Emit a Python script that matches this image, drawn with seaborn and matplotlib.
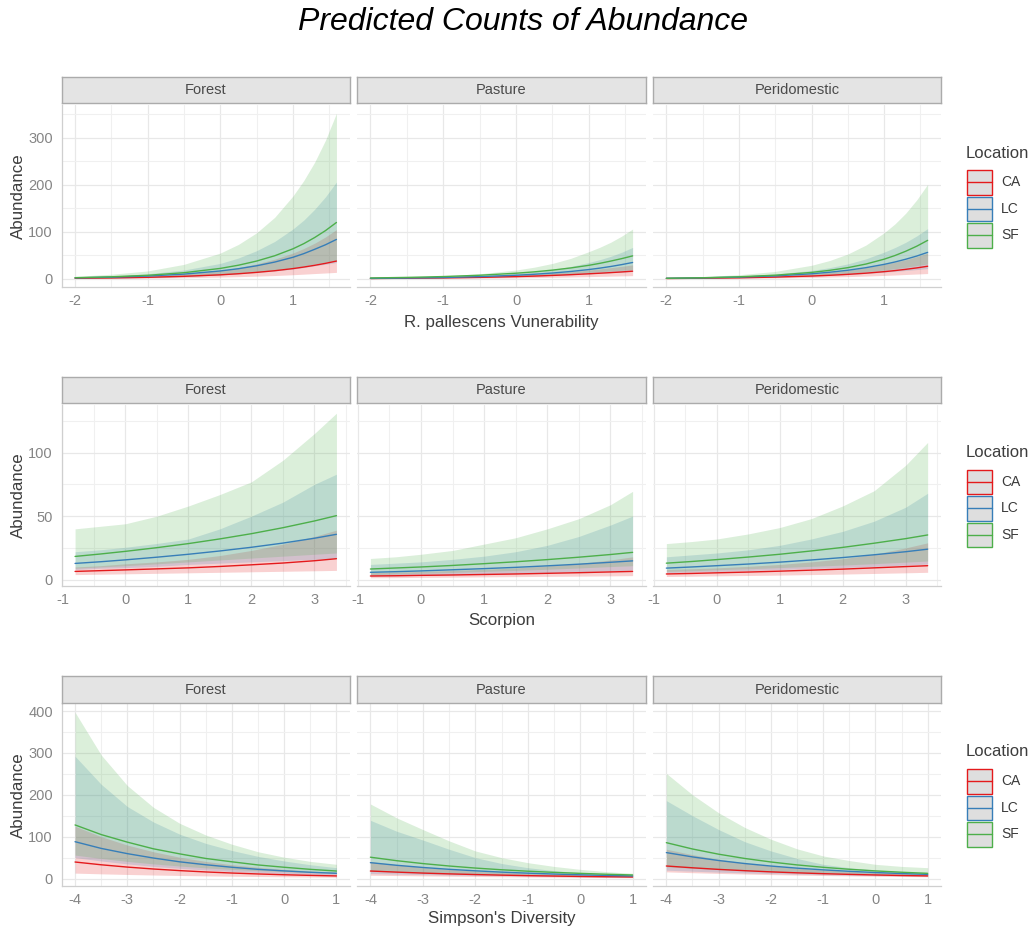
import matplotlib
matplotlib.use("Agg")
import matplotlib.pyplot as plt
import numpy as np
import pandas as pd
import seaborn as sns
from matplotlib.patches import Rectangle
from matplotlib.lines import Line2D

# ---------------------------------------------------------------
# Model predictions (fit with lower / upper confidence bounds)
# ---------------------------------------------------------------
LOCATIONS = ["CA", "LC", "SF"]
HABITATS = ["Forest", "Pasture", "Peridomestic"]
PALETTE = {"CA": "#E41A1C", "LC": "#377EB8", "SF": "#4DAF4A"}

# R. pallescens vulnerability
vul_x = [-2, -1.5, -1, -0.5, 0, 0.25, 0.5, 0.75, 1, 1.15, 1.3, 1.45, 1.6]
vul_forest = {
    "CA": {"fit": [1.5, 2.3, 3.5, 5.6, 8.8, 11.1, 14, 17.5, 22, 25.3, 29, 33.2, 38],
           "lo": [0.8, 1.2, 1.8, 2.7, 4, 4.9, 6, 7.3, 9, 10.2, 11.5, 12.7, 14],
           "hi": [2.1, 3.6, 6, 10.5, 18, 24, 32, 42, 55, 64.7, 76, 89.3, 105]},
    "LC": {"fit": [2.3, 3.8, 6.2, 10.3, 17, 21.8, 28, 35.9, 46, 53.8, 63, 72.7, 84],
           "lo": [1.1, 1.8, 3, 5, 8.5, 10.9, 14, 17.1, 21, 24.2, 28, 31.3, 35],
           "hi": [3.6, 6, 11, 19, 33, 44.5, 60, 79.7, 106, 125, 148, 174.6, 206]},
    "SF": {"fit": [2.7, 4.6, 7.8, 13.3, 22.4, 29.2, 38, 49.3, 64, 75, 88, 102.8, 120],
           "lo": [1.3, 2, 3.5, 5.5, 9, 11.6, 15, 19, 24, 27.7, 32, 35.8, 40],
           "hi": [5.5, 10, 17, 31, 55, 73.4, 98, 131, 176, 209, 248, 295, 352]},
}
vul_pasture = {
    "CA": {"fit": [1.0, 1.6, 2.3, 3.4, 5, 6.1, 7.5, 9.1, 11, 12.2, 13.5, 14.9, 16.5],
           "lo": [0.5, 0.8, 1.2, 1.7, 2.5, 3, 3.5, 4.2, 5, 5.5, 6, 6.5, 7],
           "hi": [1.5, 2.3, 3.4, 5.2, 8, 10, 12.5, 15.4, 19, 21.4, 24, 26.8, 30]},
    "LC": {"fit": [1.2, 2, 3.1, 5, 7.9, 10, 12.6, 15.9, 20, 23, 26.5, 30.5, 35],
           "lo": [0.9, 1.4, 2.2, 3.3, 5, 6.1, 7.5, 9.1, 11, 12.2, 13.5, 14.7, 16],
           "hi": [1.6, 2.6, 4.3, 7, 12, 15.5, 20, 26.5, 35, 41, 48, 56.7, 67]},
    "SF": {"fit": [2.1, 3.3, 5.1, 7.9, 12.2, 15.1, 18.8, 23.4, 29, 33.2, 38, 43.2, 49],
           "lo": [1.2, 1.8, 2.7, 4, 6, 7.3, 9, 11.2, 14, 15.4, 17, 18.4, 20],
           "hi": [2.6, 4, 6.5, 11, 19, 25, 33, 43.7, 58, 67.3, 78, 91, 106]},
}
vul_peridomestic = {
    "CA": {"fit": [1.0, 1.6, 2.5, 4, 6.2, 7.8, 9.8, 12.3, 15.5, 17.8, 20.5, 23.5, 27],
           "lo": [0.6, 0.9, 1.4, 2.2, 3.3, 4.1, 5, 6.1, 7.5, 8.4, 9.5, 10.5, 11.5],
           "hi": [1.5, 2.4, 4, 6.6, 11, 14.3, 18.5, 24, 31, 35.6, 41, 47.5, 55]},
    "LC": {"fit": [1.4, 2.3, 3.9, 6.5, 11, 14.3, 18.5, 24, 31, 36.1, 42, 48.7, 56.5],
           "lo": [1.0, 1.6, 2.5, 4, 6.2, 7.7, 9.5, 11.7, 14.5, 16.2, 18, 19.9, 22],
           "hi": [2.1, 3.5, 6, 10.5, 18, 24, 32, 42.7, 57, 66.7, 78, 91.4, 107]},
    "SF": {"fit": [1.5, 2.6, 4.6, 8, 13.9, 18.3, 24, 31.7, 42, 49.8, 59, 69.6, 82],
           "lo": [1.1, 1.7, 2.8, 4.5, 7.5, 9.5, 12, 15.1, 19, 21.8, 25, 28.3, 32],
           "hi": [3, 5, 9, 16, 29, 39.2, 53, 72, 98, 117, 140, 168, 201]},
}

# Scorpion
sco_x = [-0.8, -0.4, 0, 0.5, 1, 1.5, 2, 2.5, 3, 3.35]
sco_forest = {
    "CA": {"fit": [6.5, 7.1, 7.7, 8.5, 9.3, 10.4, 11.7, 13.1, 14.9, 16.5],
           "lo": [4, 4.3, 4.6, 5, 5.4, 5.8, 6.2, 6.6, 7, 7.3],
           "hi": [10, 11, 12.5, 14, 16, 19, 23, 28, 34, 39]},
    "LC": {"fit": [12.8, 14.1, 15.6, 17.7, 20, 22.6, 25.5, 28.8, 32.6, 35.7],
           "lo": [8, 9, 9.5, 10.5, 12, 13, 14, 15, 16, 17],
           "hi": [22, 23.5, 25.5, 28.5, 32, 40, 50, 61, 75, 83]},
    "SF": {"fit": [18.3, 20.2, 22.3, 25.2, 28.4, 32.1, 36.2, 40.9, 46.2, 50.4],
           "lo": [9, 10, 11, 12.5, 14, 15.5, 17, 18.5, 20, 21],
           "hi": [40, 42, 44, 50, 58, 67, 77, 94, 115, 131]},
}
sco_pasture = {
    "CA": {"fit": [2.9, 3.1, 3.4, 3.7, 4.1, 4.5, 5.0, 5.5, 6.1, 6.5],
           "lo": [1.5, 1.6, 1.8, 2.0, 2.2, 2.4, 2.6, 2.8, 3.0, 3.2],
           "hi": [5.5, 6, 6.5, 7.3, 8.2, 9.3, 10.8, 12.8, 15.5, 18]},
    "LC": {"fit": [5.8, 6.3, 6.9, 7.8, 8.7, 9.7, 10.9, 12.2, 13.7, 14.8],
           "lo": [2.7, 3, 3.4, 3.9, 4.4, 5, 5.6, 6.3, 7, 7.5],
           "hi": [12, 13, 14, 16, 18.5, 22, 27, 34, 43, 50]},
    "SF": {"fit": [8.4, 9.2, 10.0, 11.2, 12.6, 14.1, 15.8, 17.7, 19.8, 21.5],
           "lo": [4, 4.5, 5, 5.7, 6.5, 7.3, 8.2, 9.2, 10.3, 11],
           "hi": [16.7, 18, 20, 23, 28, 33, 40, 48, 59, 69.5]},
}
sco_peridomestic = {
    "CA": {"fit": [4.5, 4.9, 5.4, 6.0, 6.7, 7.5, 8.3, 9.3, 10.3, 11],
           "lo": [2.5, 2.7, 3, 3.3, 3.6, 4, 4.4, 4.9, 5.4, 5.8],
           "hi": [8, 8.6, 9.3, 10.5, 12, 14, 16.5, 20, 25, 29]},
    "LC": {"fit": [9.1, 10, 11, 12.3, 13.8, 15.5, 17.4, 19.6, 22, 24],
           "lo": [5.5, 6, 6.5, 7.2, 8, 8.8, 9.6, 10.5, 11.5, 12.3],
           "hi": [18, 19.5, 21, 23.5, 27, 32, 38, 46, 57, 68]},
    "SF": {"fit": [13, 14.3, 15.8, 17.8, 20, 22.6, 25.4, 28.7, 32.3, 35.2],
           "lo": [6.5, 7, 7.8, 8.6, 9.5, 10.5, 11.5, 12.6, 13.8, 14.7],
           "hi": [28.4, 30, 32, 36, 41, 48, 58, 70, 90, 108]},
}

# Simpson's diversity
sim_x = [-4, -3.5, -3, -2.5, -2, -1.5, -1, -0.5, 0, 0.5, 1]
sim_forest = {
    "CA": {"fit": [39.5, 32.9, 27.4, 22.8, 19, 15.8, 13.2, 11, 9.1, 7.6, 6.3],
           "lo": [13, 11.3, 9.8, 8.5, 7.4, 6.4, 5.6, 4.9, 4.3, 3.7, 3.2],
           "hi": [125, 100, 80, 64, 51, 41, 33, 27, 22, 18, 15]},
    "LC": {"fit": [88, 72, 59.5, 49, 40, 33, 27, 22, 18.3, 15, 12.6],
           "lo": [50, 42, 35, 29, 24.5, 20.5, 17, 14.5, 12, 10.2, 8.8],
           "hi": [292, 225, 172, 135, 106, 84, 67, 53, 42, 33, 26]},
    "SF": {"fit": [128, 105, 87, 71, 59, 48, 40, 32.5, 27, 22, 18],
           "lo": [56, 48, 41, 35, 30, 25.5, 22, 19, 16.5, 14.5, 13],
           "hi": [397, 295, 222, 170, 132, 104, 82, 64, 51, 41, 34]},
}
sim_pasture = {
    "CA": {"fit": [18, 15.4, 13.1, 11.2, 9.6, 8.2, 7, 6, 5.1, 4.4, 3.8],
           "lo": [8, 7.2, 6.4, 5.7, 5, 4.4, 3.8, 3.3, 2.8, 2.4, 2.0],
           "hi": [40, 33, 27, 22, 18, 15, 12.5, 10.5, 9, 7.8, 6.8]},
    "LC": {"fit": [38, 31.7, 26.5, 22.1, 18.5, 15.4, 12.9, 10.8, 9, 7.5, 6.3],
           "lo": [12, 10.7, 9.5, 8.4, 7.5, 6.6, 5.8, 5, 4.3, 3.7, 3.2],
           "hi": [139, 113, 92, 70, 50, 36, 26, 19, 14, 10.5, 8]},
    "SF": {"fit": [51, 42.7, 35.8, 30, 25.1, 21, 17.6, 14.8, 12.4, 10.3, 8.6],
           "lo": [18, 16, 14, 12.3, 10.8, 9.5, 8.3, 7.2, 6.2, 5.3, 4.5],
           "hi": [178, 145, 117, 90, 66, 50, 38, 29, 22, 16.5, 12.6]},
}
sim_peridomestic = {
    "CA": {"fit": [30, 25.7, 21.9, 18.8, 16, 13.7, 11.7, 10, 8.6, 7.3, 6.3],
           "lo": [16, 14, 12.3, 10.8, 9.5, 8.3, 7.3, 6.4, 5.6, 4.9, 4.3],
           "hi": [70, 57, 46, 37, 30, 25, 20.5, 17, 14.5, 12.5, 11]},
    "LC": {"fit": [62, 51.7, 43.1, 35.9, 29.9, 24.9, 20.8, 17.3, 14.4, 12, 10],
           "lo": [20, 17.6, 15.4, 13.5, 11.9, 10.5, 9.2, 8.1, 7.1, 6.3, 5.5],
           "hi": [186, 150, 117, 88, 66, 48, 34, 26, 20, 17, 15]},
    "SF": {"fit": [85.7, 70.6, 58.2, 48, 39.6, 32.6, 26.9, 22.2, 18.3, 15.1, 12.4],
           "lo": [28, 24.5, 21.5, 19, 16.8, 14.8, 13, 11.5, 10, 8.8, 7.8],
           "hi": [251, 200, 157, 122, 94, 71, 54, 43, 34, 29, 26]},
}

# Axis settings per predictor row
vul_xticks = [-2, -1, 0, 1]
vul_yticks = [0, 100, 200, 300]
sco_xticks = [-1, 0, 1, 2, 3]
sco_yticks = [0, 50, 100]
sim_xticks = [-4, -3, -2, -1, 0, 1]
sim_yticks = [0, 100, 200, 300, 400]

ROWS = [
    ("R. pallescens Vunerability", vul_x,
     [vul_forest, vul_pasture, vul_peridomestic], vul_xticks, vul_yticks),
    ("Scorpion", sco_x,
     [sco_forest, sco_pasture, sco_peridomestic], sco_xticks, sco_yticks),
    ("Simpson's Diversity", sim_x,
     [sim_forest, sim_pasture, sim_peridomestic], sim_xticks, sim_yticks),
]

# ---------------------------------------------------------------
# Styling / layout (pixel geometry of a 1035 x 932 canvas)
# ---------------------------------------------------------------
sns.set_theme(style="white")
plt.rcParams["font.family"] = ["Liberation Sans", "DejaVu Sans"]

W, H = 1035, 932
fig = plt.figure(figsize=(W / 100, H / 100), dpi=100)
fig.patch.set_facecolor("white")

COLS_PX = [(62, 349.5), (357.3, 645.7), (653.3, 940.7)]
STRIPS_PX = [(77, 103), (377, 403), (676, 703)]
PLOTS_PX = [(105, 287), (405, 586), (704, 886)]
XLABEL_Y = [322, 620, 918]

GRID_MAJOR = "#E8E8E8"
GRID_MINOR = "#F0F0F0"
AXIS_LINE = "#CFCFCF"
TICK_COL = "#858585"
TITLE_COL = "#3D3D3D"


def fx(x):
    return x / W


def fy(y):
    return 1 - y / H


def rect(x0, x1, y0, y1):
    return [fx(x0), fy(y1), fx(x1) - fx(x0), fy(y0) - fy(y1)]


def half_steps(ticks, lo, hi):
    steps = np.diff(ticks).mean() / 2
    out = np.arange(ticks[0] - steps, ticks[-1] + 2 * steps, 2 * steps)
    return [v for v in out if lo <= v <= hi]


for r, (xlabel, xs, panels, xticks, yticks) in enumerate(ROWS):
    # shared (fixed) scales within a row, ggplot-style 5% expansion
    xmin, xmax = min(xs), max(xs)
    xpad = 0.05 * (xmax - xmin)
    allvals = [v for p in panels for loc in LOCATIONS
               for k in ("lo", "hi", "fit") for v in p[loc][k]]
    ymin, ymax = min(allvals), max(allvals)
    ypad = 0.05 * (ymax - ymin)
    xlim = (xmin - xpad, xmax + xpad)
    ylim = (ymin - ypad, ymax + ypad)
    yminor = half_steps(yticks, *ylim)
    xminor = half_steps(xticks, *xlim)

    for c, (habitat, pdata) in enumerate(zip(HABITATS, panels)):
        x0, x1 = COLS_PX[c]
        py0, py1 = PLOTS_PX[r]
        ax = fig.add_axes(rect(x0, x1, py0, py1))
        ax.set_facecolor("white")

        # confidence ribbons (CA drawn first, SF on top)
        for loc in LOCATIONS:
            ax.fill_between(xs, pdata[loc]["lo"], pdata[loc]["hi"],
                            color=PALETTE[loc], alpha=0.2, linewidth=0,
                            zorder=2)

        df = pd.concat([
            pd.DataFrame({"x": xs, "fit": pdata[loc]["fit"], "Location": loc})
            for loc in LOCATIONS
        ], ignore_index=True)
        sns.lineplot(data=df, x="x", y="fit", hue="Location",
                     hue_order=LOCATIONS, palette=PALETTE, ax=ax,
                     legend=False, linewidth=1.0, estimator=None,
                     zorder=3)

        ax.set_xlim(*xlim)
        ax.set_ylim(*ylim)
        ax.set_xticks(xticks)
        ax.set_xticks(xminor, minor=True)
        ax.set_yticks(yticks)
        ax.set_yticks(yminor, minor=True)
        ax.set_xticklabels([f"{t:g}" for t in xticks])
        ax.grid(which="major", color=GRID_MAJOR, linewidth=0.9)
        ax.grid(which="minor", color=GRID_MINOR, linewidth=0.8)
        ax.set_axisbelow(True)
        ax.tick_params(which="both", length=0, labelsize=10.5,
                       colors=TICK_COL)
        ax.tick_params(axis="x", pad=5)
        ax.tick_params(axis="y", pad=6.5)
        ax.set_xlabel("")
        ax.set_ylabel("")

        for side in ("top", "right"):
            ax.spines[side].set_visible(False)
        ax.spines["bottom"].set_color(AXIS_LINE)
        ax.spines["bottom"].set_linewidth(0.9)
        if c == 0:
            ax.spines["left"].set_color(AXIS_LINE)
            ax.spines["left"].set_linewidth(0.9)
        else:
            ax.spines["left"].set_visible(False)
            ax.set_yticklabels([])

        # facet strip
        sy0, sy1 = STRIPS_PX[r]
        sax = fig.add_axes(rect(x0, x1, sy0, sy1))
        sax.set_facecolor("#E4E4E4")
        sax.set_xticks([])
        sax.set_yticks([])
        for sp in sax.spines.values():
            sp.set_visible(True)
            sp.set_color("#ABABAB")
            sp.set_linewidth(1.0)
        sax.text(0.5, 0.5, habitat, ha="center", va="center",
                 fontsize=10.5, color="#4A4A4A", transform=sax.transAxes)

    # axis titles for the row
    py0, py1 = PLOTS_PX[r]
    ymid = (py0 + py1) / 2
    fig.text(fx(18), fy(ymid), "Abundance", rotation=90, ha="center",
             va="center", fontsize=12.2, color=TITLE_COL)
    fig.text(fx((COLS_PX[0][0] + COLS_PX[2][1]) / 2), fy(XLABEL_Y[r]),
             xlabel, ha="center", va="center", fontsize=12.2,
             color=TITLE_COL)

    # legend for the row
    fig.text(fx(966), fy(ymid - 43), "Location", ha="left", va="center",
             fontsize=12, color=TITLE_COL)
    for i, loc in enumerate(LOCATIONS):
        ky0 = ymid - 26 + i * 26.6
        ky1 = ky0 + 24.5
        fig.patches.append(Rectangle((fx(967), fy(ky1)), fx(992) - fx(967),
                                     fy(ky0) - fy(ky1), transform=fig.transFigure,
                                     facecolor="#DEDEDE", edgecolor=PALETTE[loc],
                                     linewidth=1.0))
        kmid = (ky0 + ky1) / 2
        fig.lines.append(Line2D([fx(967), fx(992)], [fy(kmid), fy(kmid)],
                                transform=fig.transFigure, color=PALETTE[loc],
                                linewidth=1.0))
        fig.text(fx(1001), fy(kmid), loc, ha="left", va="center",
                 fontsize=10, color="#3A3A3A")

fig.text(fx(523), fy(22), "Predicted Counts of Abundance", ha="center",
         va="center", fontsize=23, style="italic", color="black")

fig.savefig("out.png", dpi=100, facecolor="white")
